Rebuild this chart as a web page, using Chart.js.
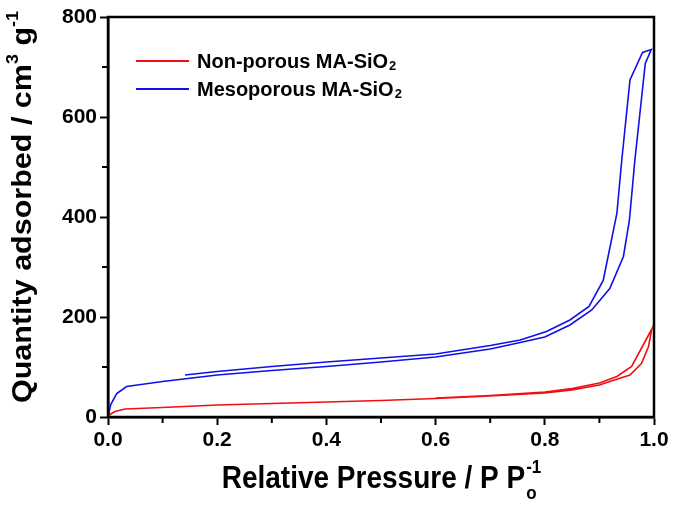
<!DOCTYPE html>
<html>
<head>
<meta charset="utf-8">
<script src="https://cdn.jsdelivr.net/npm/chart.js@4.4.0/dist/chart.umd.min.js"></script>
<style>
  html, body { margin: 0; padding: 0; background: #fff; }
  #wrap { width: 675px; height: 515px; }
</style>
</head>
<body>
<div id="wrap"><canvas id="chart"></canvas></div>
<script>
// isotherm data (P/Po, cm3/g)
const mesoAdsX = [0, 0.005, 0.016, 0.034, 0.1, 0.2, 0.3, 0.4, 0.5, 0.6, 0.7, 0.755, 0.8, 0.846, 0.886, 0.919, 0.944, 0.955, 0.965, 0.984, 0.995];
const mesoAdsY = [0, 25, 47, 61, 71, 84, 93, 101, 110, 120, 136, 149, 160, 184, 214, 257, 321, 394, 514, 707, 735];
const mesoDesX = [0.979, 0.956, 0.941, 0.932, 0.907, 0.881, 0.846, 0.803, 0.755, 0.7, 0.6, 0.5, 0.4, 0.3, 0.2, 0.141];
const mesoDesY = [729, 674, 514, 407, 273, 221, 194, 171, 154, 143, 126, 118, 110, 101, 91, 84];

const nonAdsX = [0, 0.005, 0.013, 0.031, 0.1, 0.2, 0.3, 0.4, 0.5, 0.6, 0.7, 0.8, 0.85, 0.9, 0.919, 0.956, 0.977, 0.99, 0.996];
const nonAdsY = [0, 6, 11, 16, 19, 24, 27, 30, 33, 37, 42, 48, 54, 64, 71, 84, 107, 141, 176];
const nonDesX = [0.959, 0.932, 0.9, 0.85, 0.8, 0.7, 0.6];
const nonDesY = [101, 81, 68, 57, 50, 43, 38];

const labels = ['Non-porous MA-SiO₂', 'Mesoporous MA-SiO₂'];
const xMinorTicks = [0.1, 0.3, 0.5, 0.7, 0.9];
const yMinorTicks = [100, 300, 500, 700];

function toPoints(xs, ys) {
  return xs.map((x, i) => ({ x: x, y: ys[i] }));
}

const family = '"Liberation Sans", Arial, sans-serif';

// box, minor ticks, axis titles with super/subscripts, legend inside plot
const decorations = {
  id: 'decorations',
  afterDraw(chart) {
    const ctx = chart.ctx;
    const area = chart.chartArea;
    const xs = chart.scales.x;
    const ys = chart.scales.y;
    ctx.save();

    ctx.strokeStyle = '#000';
    ctx.lineWidth = 2.5;
    ctx.strokeRect(area.left, area.top, area.right - area.left, area.bottom - area.top);

    ctx.lineWidth = 2;
    xMinorTicks.forEach(v => {
      const px = xs.getPixelForValue(v);
      ctx.beginPath();
      ctx.moveTo(px, area.bottom);
      ctx.lineTo(px, area.bottom + 6);
      ctx.stroke();
    });
    yMinorTicks.forEach(v => {
      const py = ys.getPixelForValue(v);
      ctx.beginPath();
      ctx.moveTo(area.left, py);
      ctx.lineTo(area.left - 6, py);
      ctx.stroke();
    });
    ctx.restore();

    ctx.save();
    ctx.fillStyle = '#000';
    ctx.textBaseline = 'alphabetic';
    ctx.textAlign = 'left';

    // x title: Relative Pressure / P Po^-1
    const bigX = 'bold 28px ' + family;
    const smallX = 'bold 17px ' + family;
    const xMain = 'Relative Pressure / P P';
    ctx.font = bigX;
    const wMain = ctx.measureText(xMain).width;
    ctx.font = smallX;
    const wSup = ctx.measureText('-1').width;
    const xStart = (area.left + area.right) / 2 - (wMain + wSup) / 2;
    ctx.translate(0, 488);
    ctx.scale(1, 1.1);
    ctx.font = bigX;
    ctx.fillText(xMain, xStart, 0);
    ctx.font = smallX;
    ctx.fillText('o', xStart + wMain + 1, 10);
    ctx.fillText('-1', xStart + wMain + 1, -14);
    ctx.restore();

    // y title: Quantity adsorbed / cm^3 g^-1
    ctx.save();
    ctx.fillStyle = '#000';
    ctx.textBaseline = 'alphabetic';
    ctx.textAlign = 'left';
    const bigY = 'bold 30.5px ' + family;
    const smallY = 'bold 18px ' + family;
    ctx.translate(31, 207);
    ctx.rotate(-Math.PI / 2);
    ctx.scale(1, 0.9);
    const parts = [
      ['Quantity adsorbed / cm', bigY, 0],
      ['3', smallY, -15],
      [' g', bigY, 0],
      ['-1', smallY, -15]
    ];
    let total = 0;
    parts.forEach(p => { ctx.font = p[1]; total += ctx.measureText(p[0]).width; });
    let cx = -total / 2;
    parts.forEach(p => {
      ctx.font = p[1];
      ctx.fillText(p[0], cx, p[2]);
      cx += ctx.measureText(p[0]).width;
    });
    ctx.restore();

    // legend
    ctx.save();
    const legFont = 'bold 20px ' + family;
    const legSub = 'bold 13px ' + family;
    chart.data.datasets.forEach((ds, i) => {
      const y = 61 + i * 28;
      ctx.strokeStyle = ds.borderColor;
      ctx.lineWidth = 1.8;
      ctx.beginPath();
      ctx.moveTo(136, y);
      ctx.lineTo(189, y);
      ctx.stroke();
      ctx.fillStyle = '#000';
      ctx.textBaseline = 'middle';
      ctx.textAlign = 'left';
      let text = ds.label;
      let sub = '';
      if (text.endsWith('₂')) { text = text.slice(0, -1); sub = '2'; }
      ctx.font = legFont;
      ctx.fillText(text, 197, y + 1);
      const w = ctx.measureText(text).width;
      if (sub) {
        ctx.font = legSub;
        ctx.fillText(sub, 197 + w + 1, y + 5);
      }
    });
    ctx.restore();
  }
};

new Chart(document.getElementById('chart'), {
  type: 'scatter',
  data: {
    datasets: [
      {
        label: labels[0],
        data: toPoints(nonAdsX.concat(nonDesX), nonAdsY.concat(nonDesY)),
        borderColor: '#f01010',
        showLine: true,
        pointRadius: 0,
        borderWidth: 1.6,
        fill: false
      },
      {
        label: labels[1],
        data: toPoints(mesoAdsX.concat(mesoDesX), mesoAdsY.concat(mesoDesY)),
        borderColor: '#1010e8',
        showLine: true,
        pointRadius: 0,
        borderWidth: 1.6,
        fill: false
      }
    ]
  },
  options: {
    responsive: true,
    maintainAspectRatio: false,
    animation: false,
    layout: { padding: { top: 17, right: 21, left: 0, bottom: 0 } },
    plugins: {
      legend: { display: false },
      tooltip: { enabled: false }
    },
    scales: {
      x: {
        type: 'linear',
        min: 0,
        max: 1,
        ticks: {
          stepSize: 0.2,
          color: '#000',
          font: { family: family, size: 21, weight: 'bold' },
          padding: 3,
          maxRotation: 0,
          callback: v => v.toFixed(1)
        },
        grid: { drawOnChartArea: false, tickLength: 8, tickWidth: 2, tickColor: '#000' },
        border: { color: '#000', width: 2.5 },
        afterFit: s => { s.height = 98; }
      },
      y: {
        min: 0,
        max: 800,
        ticks: {
          stepSize: 200,
          color: '#000',
          font: { family: family, size: 21, weight: 'bold' },
          padding: 3
        },
        grid: { drawOnChartArea: false, tickLength: 8, tickWidth: 2, tickColor: '#000' },
        border: { color: '#000', width: 2.5 },
        afterFit: s => { s.width = 108; }
      }
    }
  },
  plugins: [decorations]
});
</script>
</body>
</html>
